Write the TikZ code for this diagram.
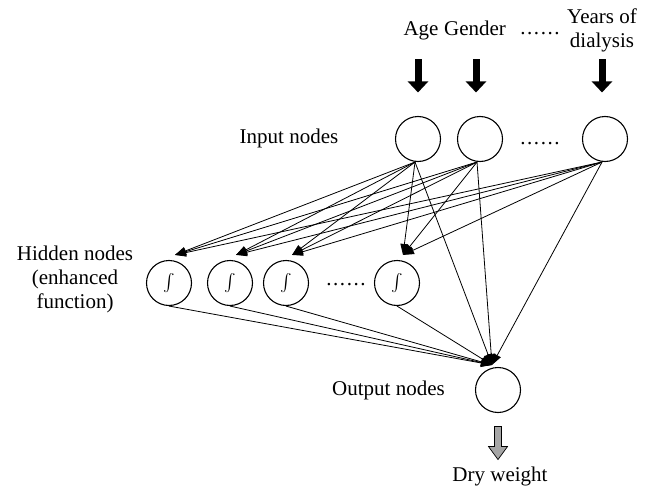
\documentclass[tikz,border=0pt]{standalone}
\usepackage{amsmath}
\usepackage{fontspec}
\setmainfont{Liberation Serif}
\usetikzlibrary{arrows.meta,calc}

% six spaced dots for the elided members of a layer
\newcommand{\sixdots}{.\kern1.6pt.\kern1.6pt.\kern1.6pt.\kern1.6pt.\kern1.6pt.}

\tikzset{
  neuron/.style={circle, draw, line width=1.1pt, minimum size=45pt, inner sep=0pt,
    font=\fontsize{19}{21}\selectfont},
  lbl/.style={inner sep=0pt, font=\fontsize{21}{24}\selectfont},
  link/.style={line width=0.8pt},
  linkarr/.style={link, -{Triangle[length=11pt,width=8pt]}},
  feed/.style={line width=7pt, -{Triangle[length=11pt,width=20pt]}},
  outarr/.style={draw=black, line width=0.7pt, fill=black!35},
}

\begin{document}
\begin{tikzpicture}[x=1pt, y=-1pt]
  \useasboundingbox (0,0) rectangle (658,492);

  % input layer
  \node[neuron] (in1) at (418,139) {};
  \node[neuron] (in2) at (480,139) {};
  \node[neuron] (in3) at (605,139) {};
  \node[lbl, anchor=base] (indots) at (540,144) {\sixdots};
  \node[lbl, anchor=base] (inlbl) at (289,143) {Input nodes};

  % input variables
  \node[lbl, anchor=base] (age) at (421,36) {Age};
  \node[lbl, anchor=base] (gender) at (475,36) {Gender};
  \node[lbl, anchor=base] (topdots) at (540,35) {\sixdots};
  \node[lbl, anchor=base, align=center] (years) at (602,48) {Years of\\dialysis};

  \draw[feed] ([yshift=56.5pt]in1.north) -- ([yshift=23.5pt]in1.north);
  \draw[feed] ([xshift=-4pt,yshift=56.5pt]in2.north) -- ([xshift=-4pt,yshift=23.5pt]in2.north);
  \draw[feed] ([xshift=-3pt,yshift=56.5pt]in3.north) -- ([xshift=-3pt,yshift=23.5pt]in3.north);

  % hidden layer
  \node[neuron] (h1) at (169,283) {$\int$};
  \node[neuron] (h2) at (230,283) {$\int$};
  \node[neuron] (h3) at (286,283) {$\int$};
  \node[neuron] (h4) at (397,283) {$\int$};
  \node[lbl, anchor=base] (hdots) at (346,285) {\sixdots};
  \node[lbl, anchor=base, align=center] (hlbl) at (75,308) {Hidden nodes\\(enhanced\\function)};

  % output layer
  \node[neuron] (out) at (498,390) {};
  \node[lbl, anchor=base east] (outlbl) at (445,395) {Output nodes};
  \node[lbl, anchor=base] (dry) at (500,481) {Dry weight};

  % input -> hidden, input -> output
  \foreach \i in {1,2,3}{
    \foreach \h in {1,2,3,4}{
      \draw[linkarr] ([xshift=-3pt]in\i.south) -- ([xshift=6pt,yshift=5pt]h\h.north);
    }
    \draw[linkarr] ([xshift=-3pt]in\i.south) -- ([xshift=-6pt,yshift=2pt]out.north);
  }

  % hidden -> output
  \foreach \h in {1,2,3,4}{
    \draw[linkarr] (h\h.south) -- ([xshift=-6pt,yshift=2pt]out.north);
  }

  % result arrow
  \draw[outarr] ($(out.south)+(-3.5,13.5)$) -- ++(0,20) -- ++(-6,0) -- ++(9.5,13)
    -- ++(9.5,-13) -- ++(-6,0) -- ++(0,-20) -- cycle;
\end{tikzpicture}
\end{document}
